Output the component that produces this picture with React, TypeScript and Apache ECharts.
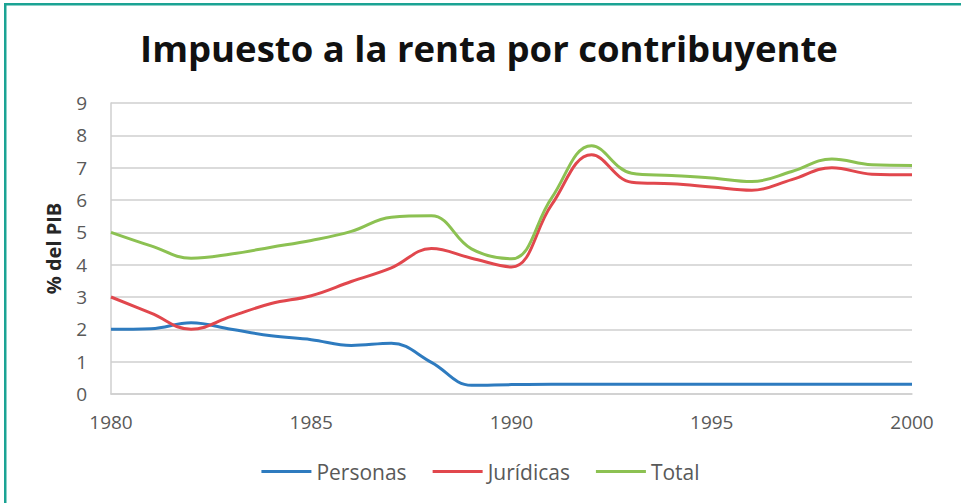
import React, { useEffect, useRef } from "react";
import * as echarts from "echarts";

const years = [1980, 1981, 1982, 1983, 1984, 1985, 1986, 1987, 1988, 1989, 1990, 1991, 1992, 1993, 1994, 1995, 1996, 1997, 1998, 1999, 2000];
const personas = [2.0, 2.02, 2.2, 2.0, 1.8, 1.68, 1.5, 1.57, 0.98, 0.27, 0.29, 0.3, 0.3, 0.3, 0.3, 0.3, 0.3, 0.3, 0.3, 0.3, 0.3];
const juridicas = [3.0, 2.5, 2.0, 2.4, 2.8, 3.04, 3.48, 3.9, 4.5, 4.2, 3.93, 5.85, 7.4, 6.55, 6.5, 6.4, 6.3, 6.63, 7.0, 6.8, 6.78];
const total = [5.0, 4.58, 4.2, 4.33, 4.54, 4.75, 5.03, 5.47, 5.51, 4.49, 4.18, 6.06, 7.68, 6.83, 6.76, 6.68, 6.57, 6.88, 7.27, 7.09, 7.07];
const seriesNames = ["Personas", "Jurídicas", "Total"];
const colors = ["#2e7bbf", "#e1474d", "#8cc152"];
const titleText = "Impuesto a la renta por contribuyente";
const yAxisName = "% del PIB";

export default function App() {
  const ref = useRef<HTMLDivElement>(null);
  useEffect(() => {
    if (!ref.current) return;
    const chart = echarts.init(ref.current, undefined, { renderer: "svg" });
    const font = "Open Sans";
    const toPairs = (arr: number[]) => years.map((y, i) => [y, arr[i]]);
    const data = [personas, juridicas, total];
    chart.setOption({
      animation: false,
      backgroundColor: "#ffffff",
      title: {
        text: titleText,
        left: 484,
        textAlign: "center",
        top: 24,
        textStyle: { fontFamily: font, fontSize: 36.5, fontWeight: "bold", color: "#111111" },
      },
      graphic: [
        { type: "rect", shape: { x: 4, y: 3, width: 957, height: 2.5 }, style: { fill: "#1ba394" } },
        { type: "rect", shape: { x: 4, y: 3, width: 2.5, height: 500 }, style: { fill: "#1ba394" } },
      ],
      legend: {
        bottom: 16,
        left: "center",
        icon: "rect",
        itemWidth: 50,
        itemHeight: 3,
        itemGap: 26,
        textStyle: { fontFamily: font, fontSize: 21, color: "#595959" },
        data: seriesNames,
      },
      grid: { left: 111, right: 49, top: 103, bottom: 109 },
      xAxis: {
        type: "value",
        min: 1980,
        max: 2000,
        interval: 5,
        axisLine: { show: true, lineStyle: { color: "#cfcfcf", width: 1.5 } },
        axisTick: { show: false },
        splitLine: { show: false },
        axisLabel: {
          margin: 18,
          fontFamily: font,
          fontSize: 19,
          color: "#595959",
          formatter: (v: number) => String(v),
        },
      },
      yAxis: {
        type: "value",
        min: 0,
        max: 9,
        interval: 1,
        name: yAxisName,
        nameLocation: "middle",
        nameRotate: 90,
        nameGap: 48,
        nameTextStyle: { fontFamily: font, fontSize: 20, fontWeight: "bold", color: "#262626" },
        axisLine: { show: true, lineStyle: { color: "#cfcfcf", width: 1.5 } },
        axisTick: { show: false },
        splitLine: { show: true, lineStyle: { color: "#cfcfcf", width: 1.5 } },
        axisLabel: { margin: 24, fontFamily: font, fontSize: 19, color: "#595959" },
      },
      series: seriesNames.map((name, i) => ({
        name,
        type: "line",
        data: toPairs(data[i]),
        smooth: 0.4,
        symbol: "none",
        lineStyle: { color: colors[i], width: 3 },
        itemStyle: { color: colors[i] },
      })),
    });
    return () => chart.dispose();
  }, []);
  return <div ref={ref} style={{ position: "fixed", left: 0, top: 0, width: 961, height: 503 }} />;
}
